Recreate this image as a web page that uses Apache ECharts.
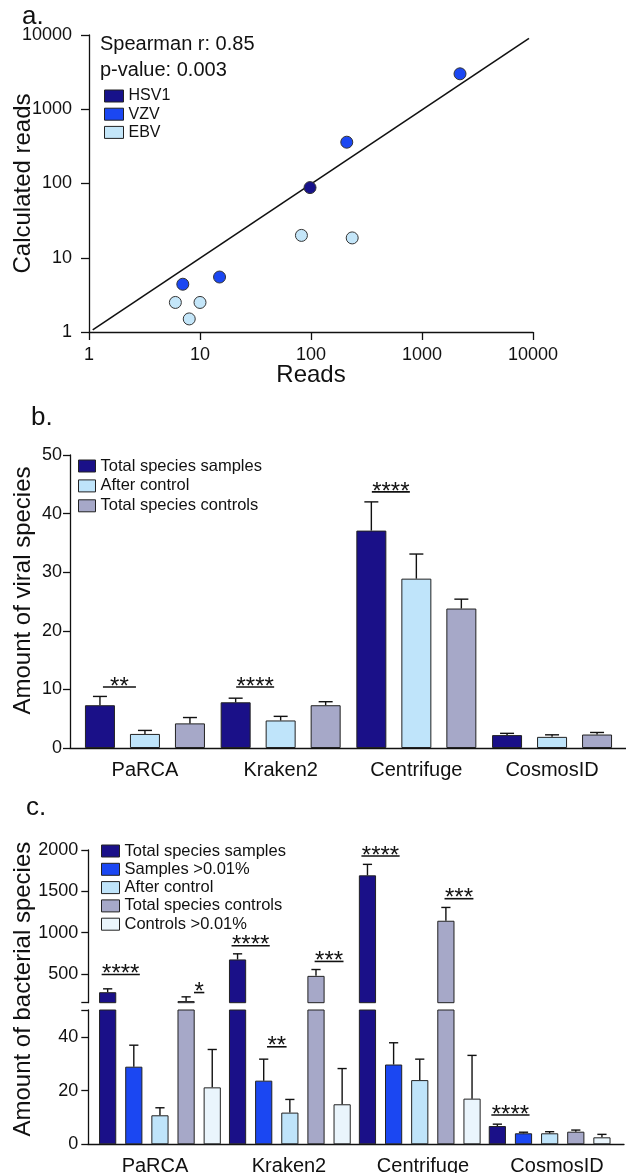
<!DOCTYPE html>
<html><head><meta charset="utf-8">
<script src="https://cdn.jsdelivr.net/npm/echarts@6/dist/echarts.min.js"></script>
<style>html,body{margin:0;padding:0;background:#fff}#c{width:626px;height:1173px}</style>
</head><body><div id="c"></div><script>
// ---------- Panel a data ----------
const hsv1 = [[98, 88]];
const vzv = [[2200, 3000], [210, 360], [15, 5.5], [7, 4.4]];
const ebv = [[82, 20], [235, 18.5], [6, 2.5], [10, 2.5], [8, 1.5]];
const fitLine = [[1.08, 1.07], [9200, 9000]];
const statText = ['Spearman r: 0.85', 'p-value: 0.003'];

// ---------- Panel b data ----------
const tools = ['PaRCA', 'Kraken2', 'Centrifuge', 'CosmosID'];
const viralNames = ['Total species samples', 'After control', 'Total species controls'];
const viralSamples = [7.3, 7.8, 37.1, 2.2];
const viralSamplesErr = [8.8, 8.5, 42.0, 2.5];
const viralAfter = [2.4, 4.7, 28.9, 1.9];
const viralAfterErr = [3.0, 5.4, 33.1, 2.25];
const viralControls = [4.2, 7.3, 23.8, 2.3];
const viralControlsErr = [5.2, 7.9, 25.4, 2.65];
// [category, fromBar, toBar, value, label]
const viralSig = [[0, 0, 1, 10.4, '**'], [1, 0, 1, 10.4, '****'], [2, 0, 1, 43.7, '****']];

// ---------- Panel c data ----------
const bactNames = ['Total species samples', 'Samples >0.01%', 'After control', 'Total species controls', 'Controls >0.01%'];
const bactSamples = [277, 674, 1693, 6.8];
const bactSamplesErr = [318, 742, 1826, 7.5];
const bactSamples001 = [28.9, 23.7, 29.7, 4.1];
const bactSamples001Err = [36.9, 31.7, 37.8, 4.5];
const bactAfter = [10.8, 11.8, 23.9, 4.1];
const bactAfterErr = [13.6, 16.7, 31.7, 4.7];
const bactControls = [170, 475, 1143, 4.7];
const bactControlsErr = [221, 552, 1304, 5.3];
const bactControls001 = [21.2, 14.9, 17.0, 2.6];
const bactControls001Err = [35.3, 28.2, 33.1, 3.7];
const bactSig = [[0, 0, 1, 492, '****'], [0, 3, 4, 273, '*'], [1, 0, 1, 840, '****'], [1, 1, 2, 36.3, '**'],
                 [1, 3, 4, 650, '***'], [2, 0, 1, 1927, '****'], [2, 3, 4, 1410, '***'], [3, 0, 1, 10.9, '****']];
const upperRange = [150, 2000];
const lowerRange = [0, 50];
const upperTicks = [150, 500, 1000, 1500, 2000];
const upperLabels = [500, 1000, 1500, 2000];
const lowerTicks = [0, 20, 40, 50];
const lowerLabels = [0, 20, 40];

// ---------- styles ----------
const FONT = '"Liberation Sans", Arial, Helvetica, sans-serif';
const INK = '#111';
const C_NAVY = '#1a1088', C_BLUE = '#1b47f2', C_LIGHT = '#bfe4fa', C_GREY = '#a6a8c8', C_WHITE = '#eaf5fc';
const viralColors = [C_NAVY, C_LIGHT, C_GREY];
const bactColors = [C_NAVY, C_BLUE, C_LIGHT, C_GREY, C_WHITE];

const B_BAR = 30, B_GAP = 0.5, B_SP = B_BAR * (1 + B_GAP);
const C_BAR = 17.2, C_GAP = 0.52, C_SP = C_BAR * (1 + C_GAP);
const plain = v => String(v);

function errSeries(items, xi, yi, nBars, spacing, capHalf) {
  return {
    type: 'custom', xAxisIndex: xi, yAxisIndex: yi, silent: true, z: 5, clip: false,
    data: items, encode: { x: 0, y: 2 },
    renderItem(params, api) {
      const c = api.value(0), k = api.value(1), v = api.value(2), e = api.value(3);
      const p0 = api.coord([c, v]), p1 = api.coord([c, e]);
      const x = p0[0] + (k - (nBars - 1) / 2) * spacing;
      return { type: 'group', children: [
        { type: 'line', shape: { x1: x, y1: p0[1], x2: x, y2: p1[1] }, style: { stroke: INK, lineWidth: 1.4 } },
        { type: 'line', shape: { x1: x - capHalf, y1: p1[1], x2: x + capHalf, y2: p1[1] }, style: { stroke: INK, lineWidth: 1.4 } }
      ] };
    }
  };
}
function sigSeries(items, xi, yi, nBars, spacing, lenFn, shift) {
  return {
    type: 'custom', xAxisIndex: xi, yAxisIndex: yi, silent: true, z: 6, clip: false,
    data: items.map(s => [s[0], s[1], s[2], s[3]]), encode: { x: 0, y: 3 },
    renderItem(params, api) {
      const s = items[params.dataIndex];
      const p = api.coord([s[0], s[3]]);
      const xa = p[0] + (s[1] - (nBars - 1) / 2) * spacing;
      const xb = p[0] + (s[2] - (nBars - 1) / 2) * spacing;
      const xm = (xa + xb) / 2 + shift, half = lenFn(s[4]) / 2;
      return { type: 'group', children: [
        { type: 'line', shape: { x1: xm - half, y1: p[1], x2: xm + half, y2: p[1] }, style: { stroke: INK, lineWidth: 1.6 } },
        { type: 'text', style: { text: s[4], x: xm, y: p[1], fill: INK, fontSize: 24, fontFamily: FONT, align: 'center', verticalAlign: 'middle' } }
      ] };
    }
  };
}

// error items
const viralVals = [viralSamples, viralAfter, viralControls];
const viralErrs = [viralSamplesErr, viralAfterErr, viralControlsErr];
const viralErrItems = [];
viralVals.forEach((arr, k) => arr.forEach((v, i) => viralErrItems.push([i, k, v, viralErrs[k][i]])));

const bactVals = [bactSamples, bactSamples001, bactAfter, bactControls, bactControls001];
const bactErrs = [bactSamplesErr, bactSamples001Err, bactAfterErr, bactControlsErr, bactControls001Err];
const bactErrUpper = [], bactErrLower = [];
bactVals.forEach((arr, k) => arr.forEach((v, i) => {
  (v > upperRange[0] ? bactErrUpper : bactErrLower).push([i, k, v, bactErrs[k][i]]);
}));
const sigUpper = bactSig.filter(s => s[3] > upperRange[0]);
const sigLower = bactSig.filter(s => s[3] <= lowerRange[1]);

const axisLineStyle = { lineStyle: { color: INK, width: 1.3 } };
const tickStyle = (len) => ({ show: true, length: len, inside: false, lineStyle: { color: INK, width: 1.3 } });

const G = { outerBoundsMode: 'none', containLabel: false };
const grids = [
  { ...G, left: 89, top: 35, width: 444, height: 297 },            // 0 a
  { ...G, left: 77.1, top: 455, width: 542.8, height: 293 },      // 1 b bars
  { ...G, left: 70, top: 455, width: 556, height: 293 },          // 2 b axis line
  { ...G, left: 95, top: 850, width: 519.6, height: 152.7 },      // 3 c upper
  { ...G, left: 95, top: 1010, width: 519.6, height: 134.3 },     // 4 c lower
  { ...G, left: 88, top: 850, width: 536, height: 294.3 }         // 5 c axis line + labels
];

const xAxes = [
  { gridIndex: 0, type: 'log', logBase: 10, min: 1, max: 10000, axisLine: axisLineStyle, axisTick: tickStyle(8),
    splitLine: { show: false }, minorTick: { show: false },
    axisLabel: { fontSize: 18, color: INK, margin: 14, fontFamily: FONT, formatter: plain },
    name: 'Reads', nameLocation: 'middle', nameGap: 31, nameMoveOverlap: false,
    nameTextStyle: { fontSize: 24, color: INK, fontFamily: FONT } },
  { gridIndex: 1, type: 'category', data: tools, axisLine: { show: false }, axisTick: { show: false },
    axisLabel: { fontSize: 20, color: INK, margin: 12, fontFamily: FONT } },
  { gridIndex: 2, type: 'value', min: 0, max: 1, axisLine: axisLineStyle, axisTick: { show: false },
    axisLabel: { show: false }, splitLine: { show: false } },
  { gridIndex: 3, type: 'category', data: tools, show: false },
  { gridIndex: 4, type: 'category', data: tools, axisLine: { show: false }, axisTick: { show: false }, axisLabel: { show: false } },
  { gridIndex: 5, type: 'category', data: tools, axisLine: axisLineStyle, axisTick: { show: false },
    axisLabel: { fontSize: 20, color: INK, margin: 12, fontFamily: FONT } }
];

const yAxes = [
  { gridIndex: 0, type: 'log', logBase: 10, min: 1, max: 10000, axisLine: axisLineStyle, axisTick: tickStyle(8),
    splitLine: { show: false }, minorTick: { show: false },
    axisLabel: { fontSize: 18, color: INK, margin: 17, fontFamily: FONT, formatter: plain },
    name: 'Calculated reads', nameLocation: 'middle', nameRotate: 90, nameGap: 54, nameMoveOverlap: false,
    nameTextStyle: { fontSize: 24, color: INK, fontFamily: FONT } },
  { gridIndex: 1, type: 'value', min: 0, max: 50, interval: 10, offset: 7.1, axisLine: { show: true, ...axisLineStyle },
    axisTick: tickStyle(7), splitLine: { show: false },
    axisLabel: { fontSize: 18, color: INK, margin: 8, fontFamily: FONT, formatter: plain } },
  { gridIndex: 2, type: 'value', axisLine: { show: false }, axisTick: { show: false }, axisLabel: { show: false },
    splitLine: { show: false },
    name: 'Amount of viral species', nameLocation: 'middle', nameRotate: 90, nameGap: 35, nameMoveOverlap: false,
    nameTextStyle: { fontSize: 24, color: INK, fontFamily: FONT, padding: [0, 0, 0, 22] } },
  { gridIndex: 3, type: 'value', min: upperRange[0], max: upperRange[1], offset: 6.7,
    axisLine: { show: true, ...axisLineStyle },
    axisTick: { ...tickStyle(7), customValues: upperTicks }, splitLine: { show: false },
    axisLabel: { fontSize: 18, color: INK, margin: 10, fontFamily: FONT, customValues: upperLabels, formatter: plain } },
  { gridIndex: 4, type: 'value', min: lowerRange[0], max: lowerRange[1], offset: 6.7,
    axisLine: { show: true, ...axisLineStyle },
    axisTick: { ...tickStyle(7), customValues: lowerTicks }, splitLine: { show: false },
    axisLabel: { fontSize: 18, color: INK, margin: 10, fontFamily: FONT, customValues: lowerLabels, formatter: plain } },
  { gridIndex: 5, type: 'value', axisLine: { show: false }, axisTick: { show: false }, axisLabel: { show: false },
    splitLine: { show: false },
    name: 'Amount of bacterial species', nameLocation: 'middle', nameRotate: 90, nameGap: 53, nameMoveOverlap: false,
    nameTextStyle: { fontSize: 24, color: INK, fontFamily: FONT, padding: [0, 0, 0, 16] } }
];

const barBorder = { borderColor: '#222', borderWidth: 1 };
const series = [];
// Panel a
const scat = (name, data, color) => ({ name, type: 'scatter', xAxisIndex: 0, yAxisIndex: 0, data, symbolSize: 12,
  itemStyle: { color, borderColor: '#333', borderWidth: 1, opacity: 1 }, z: 4 });
series.push({ type: 'line', xAxisIndex: 0, yAxisIndex: 0, data: fitLine, showSymbol: false, silent: true,
  lineStyle: { color: INK, width: 1.6 }, z: 3 });
series.push(scat('HSV1', hsv1, '#17128a'));
series.push(scat('VZV', vzv, C_BLUE));
series.push(scat('EBV', ebv, '#c4e6f9'));
// Panel b
viralNames.forEach((n, k) => series.push({ name: n, type: 'bar', xAxisIndex: 1, yAxisIndex: 1, data: viralVals[k],
  barWidth: B_BAR, barGap: (B_GAP * 100) + '%', itemStyle: { color: viralColors[k], ...barBorder } }));
series.push(errSeries(viralErrItems, 1, 1, 3, B_SP, 7));
series.push(sigSeries(viralSig, 1, 1, 3, B_SP, t => 28 + 2.5 * t.length, -3));
// Panel c
bactNames.forEach((n, k) => {
  series.push({ name: n, type: 'bar', xAxisIndex: 3, yAxisIndex: 3,
    data: bactVals[k].map(v => v > upperRange[0] ? v : null),
    barWidth: C_BAR, barGap: (C_GAP * 100) + '%', itemStyle: { color: bactColors[k], ...barBorder } });
  series.push({ name: n, type: 'bar', xAxisIndex: 4, yAxisIndex: 4, data: bactVals[k],
    barWidth: C_BAR, barGap: (C_GAP * 100) + '%', itemStyle: { color: bactColors[k], ...barBorder } });
});
series.push(errSeries(bactErrUpper, 3, 3, 5, C_SP, 4.6));
series.push(errSeries(bactErrLower, 4, 4, 5, C_SP, 4.6));
series.push(sigSeries(sigUpper, 3, 3, 5, C_SP, t => 9.3 * t.length + 1, 0));
series.push(sigSeries(sigLower, 4, 4, 5, C_SP, t => 9.3 * t.length + 1, 0));

const legendBase = { orient: 'vertical', icon: 'rect', selectedMode: false, padding: 0,
  itemStyle: { borderColor: '#222', borderWidth: 1 } };
const option = {
  animation: false,
  textStyle: { fontFamily: FONT, color: INK },
  title: [
    { text: 'a.', left: 22, top: 4, padding: 0, textStyle: { fontSize: 26, fontWeight: 'normal', color: INK, fontFamily: FONT } },
    { text: 'b.', left: 31, top: 405, padding: 0, textStyle: { fontSize: 26, fontWeight: 'normal', color: INK, fontFamily: FONT } },
    { text: 'c.', left: 26, top: 795, padding: 0, textStyle: { fontSize: 26, fontWeight: 'normal', color: INK, fontFamily: FONT } },
    { text: statText[0], left: 100, top: 34, padding: 0, textStyle: { fontSize: 20, fontWeight: 'normal', color: INK, fontFamily: FONT } },
    { text: statText[1], left: 100, top: 60, padding: 0, textStyle: { fontSize: 20, fontWeight: 'normal', color: INK, fontFamily: FONT } }
  ],
  legend: [
    { ...legendBase, data: ['HSV1', 'VZV', 'EBV'], left: 104, top: 88, itemWidth: 19, itemHeight: 12, itemGap: 2.2,
      textStyle: { fontSize: 16, color: INK, fontFamily: FONT } },
    { ...legendBase, data: viralNames, left: 78, top: 457.5, itemWidth: 17, itemHeight: 12, itemGap: 2.9,
      textStyle: { fontSize: 16.5, color: INK, fontFamily: FONT } },
    { ...legendBase, data: bactNames, left: 101, top: 842.5, itemWidth: 18, itemHeight: 12, itemGap: 1.3,
      textStyle: { fontSize: 16.5, color: INK, fontFamily: FONT } }
  ],
  grid: grids,
  xAxis: xAxes,
  yAxis: yAxes,
  series
};
const chart = echarts.init(document.getElementById('c'));
chart.setOption(option);
</script></body></html>
